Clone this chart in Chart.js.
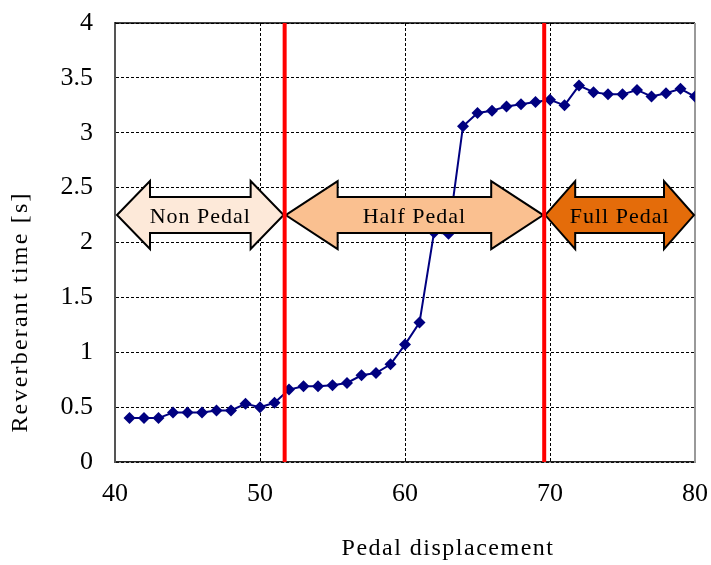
<!DOCTYPE html>
<html>
<head>
<meta charset="utf-8">
<title>Reverberant time vs pedal displacement</title>
<script src="https://cdn.jsdelivr.net/npm/chart.js@4/dist/chart.umd.min.js"></script>
<style>
    html, body { margin: 0; padding: 0; background: #fff; }
    #wrap { width: 711px; height: 565px; }
</style>
</head>
<body>
<div id="wrap"><canvas id="reverb-chart" width="711" height="565"></canvas></div>
<script>
// Data
const displacement = [41, 42, 43, 44, 45, 46, 47, 48, 49, 50,
                      51, 52, 53, 54, 55, 56, 57, 58, 59, 60,
                      61, 62, 63, 64, 65, 66, 67, 68, 69, 70,
                      71, 72, 73, 74, 75, 76, 77, 78, 79, 80];
const reverbTime = [0.40, 0.40, 0.40, 0.45, 0.45, 0.45, 0.47, 0.47, 0.53, 0.50,
                    0.54, 0.66, 0.69, 0.69, 0.70, 0.72, 0.79, 0.81, 0.89, 1.07,
                    1.27, 2.09, 2.08, 3.06, 3.18, 3.20, 3.24, 3.26, 3.28, 3.30,
                    3.25, 3.43, 3.37, 3.35, 3.35, 3.39, 3.33, 3.36, 3.40, 3.33];
const xTicks = [40, 50, 60, 70, 80];
const yTicks = [0, 0.5, 1, 1.5, 2, 2.5, 3, 3.5, 4];

// Pedal zones: boundaries on the x axis and the arrow labels
const zoneBounds = [40, 51.7, 69.6, 80];
const zoneLabels = ['Non Pedal', 'Half Pedal', 'Full Pedal'];
const zoneLevel = 2.25;

const FONT = '"Liberation Serif", "Times New Roman", serif';

/**
 * Solid frame on top / right edges (grid lines there are dashed)
 */
const framePlugin = {
    id: 'frame',
    beforeDatasetsDraw(chart) {
        const a = chart.chartArea;
        const ctx = chart.ctx;
        ctx.save();
        ctx.lineWidth = 1.5;
        ctx.strokeStyle = '#000';
        ctx.beginPath();
        ctx.moveTo(a.left, a.top);
        ctx.lineTo(a.right, a.top);
        ctx.stroke();
        ctx.strokeStyle = '#999';
        ctx.lineWidth = 2;
        ctx.beginPath();
        ctx.moveTo(a.right, a.top);
        ctx.lineTo(a.right, a.bottom);
        ctx.stroke();
        ctx.restore();
    }
};

/**
 * Double-headed zone arrows and red boundary lines
 */
const zonesPlugin = {
    id: 'zones',
    afterDatasetsDraw(chart) {
        const ctx = chart.ctx;
        const xs = chart.scales.x;
        const ys = chart.scales.y;
        const a = chart.chartArea;
        const cy = ys.getPixelForValue(zoneLevel);
        const fills = ['#FDE9D9', '#FAC090', '#E46C0A'];
        const heads = [33, 52, 30];
        const shaft = 18;
        const head = 34;

        ctx.save();
        for (let i = 0; i < zoneLabels.length; i++) {
            const x0 = xs.getPixelForValue(zoneBounds[i]) + (i === 0 ? 2 : 1);
            const x1 = xs.getPixelForValue(zoneBounds[i + 1]) - 1;
            const h = heads[i];
            ctx.beginPath();
            ctx.moveTo(x0, cy);
            ctx.lineTo(x0 + h, cy - head);
            ctx.lineTo(x0 + h, cy - shaft);
            ctx.lineTo(x1 - h, cy - shaft);
            ctx.lineTo(x1 - h, cy - head);
            ctx.lineTo(x1, cy);
            ctx.lineTo(x1 - h, cy + head);
            ctx.lineTo(x1 - h, cy + shaft);
            ctx.lineTo(x0 + h, cy + shaft);
            ctx.lineTo(x0 + h, cy + head);
            ctx.closePath();
            ctx.fillStyle = fills[i];
            ctx.fill();
            ctx.lineWidth = 2;
            ctx.lineJoin = 'miter';
            ctx.strokeStyle = '#000';
            ctx.stroke();

            ctx.fillStyle = '#000';
            ctx.font = '22px ' + FONT;
            ctx.letterSpacing = '1px';
            ctx.textAlign = 'center';
            ctx.textBaseline = 'middle';
            ctx.fillText(zoneLabels[i], (x0 + x1) / 2, cy + 2);
        }

        // red boundary lines
        ctx.strokeStyle = '#FF0000';
        ctx.lineWidth = 4;
        zoneBounds.slice(1, -1).forEach(v => {
            const px = xs.getPixelForValue(v);
            ctx.beginPath();
            ctx.moveTo(px, a.top);
            ctx.lineTo(px, a.bottom);
            ctx.stroke();
        });
        ctx.restore();
    },
    afterDraw(chart) {
        // axis titles
        const ctx = chart.ctx;
        ctx.save();
        ctx.fillStyle = '#000';
        ctx.font = '24px ' + FONT;
        ctx.textAlign = 'center';
        ctx.textBaseline = 'middle';
        ctx.letterSpacing = '1.5px';
        ctx.fillText('Pedal displacement', 448, 549);
        ctx.translate(21, 312);
        ctx.rotate(-Math.PI / 2);
        ctx.letterSpacing = '2.2px';
        ctx.fillText('Reverberant time [s]', 0, 0);
        ctx.restore();
    }
};

document.addEventListener('DOMContentLoaded', function() {
    const ctx = document.getElementById('reverb-chart');
    const points = displacement.map((x, i) => ({ x: x, y: reverbTime[i] }));

    new Chart(ctx, {
        type: 'line',
        data: {
            datasets: [{
                label: 'Reverberant time',
                data: points,
                borderColor: '#000080',
                backgroundColor: '#000080',
                borderWidth: 2,
                pointStyle: 'rectRot',
                pointRadius: 6,
                pointBorderWidth: 0,
                tension: 0
            }]
        },
        options: {
            responsive: false,
            animation: false,
            layout: {
                padding: { left: 0, right: 16, top: 23, bottom: 0 }
            },
            plugins: {
                legend: { display: false },
                tooltip: { enabled: false }
            },
            scales: {
                x: {
                    type: 'linear',
                    min: 40,
                    max: 80,
                    afterBuildTicks: axis => { axis.ticks = xTicks.map(v => ({ value: v })); },
                    afterFit: axis => {
                        axis.height = 103;
                        axis.paddingLeft = 0;
                        axis.paddingRight = 0;
                    },
                    grid: { color: '#000', lineWidth: 1, drawTicks: false },
                    border: { color: '#222', width: 1.5, dash: [3, 2] },
                    ticks: {
                        color: '#000',
                        padding: 17,
                        font: { family: FONT, size: 26 },
                        callback: v => String(v)
                    }
                },
                y: {
                    min: 0,
                    max: 4,
                    afterBuildTicks: axis => { axis.ticks = yTicks.map(v => ({ value: v })); },
                    afterFit: axis => {
                        axis.width = 115;
                        axis.paddingTop = 0;
                        axis.paddingBottom = 0;
                    },
                    grid: { color: '#000', lineWidth: 1, drawTicks: false },
                    border: { color: '#555', width: 2, dash: [3, 2] },
                    ticks: {
                        color: '#000',
                        padding: 22,
                        font: { family: FONT, size: 26 },
                        callback: v => String(v)
                    }
                }
            }
        },
        plugins: [framePlugin, zonesPlugin]
    });
});
</script>
</body>
</html>
